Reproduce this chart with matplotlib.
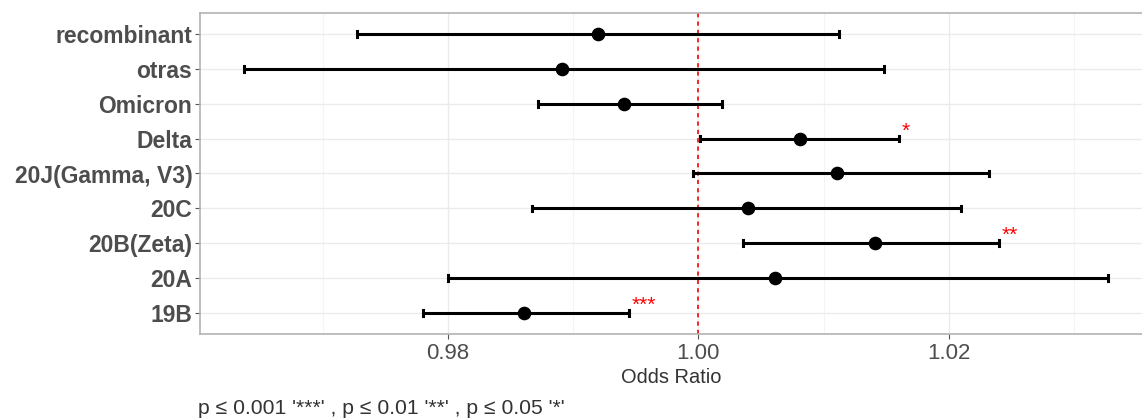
import matplotlib
matplotlib.use("Agg")
import matplotlib.pyplot as plt
from matplotlib.ticker import FixedLocator

plt.rcParams['font.family'] = ['Liberation Sans', 'DejaVu Sans']

categories = ["19B", "20A", "20B(Zeta)", "20C", "20J(Gamma, V3)", "Delta", "Omicron", "otras", "recombinant"]
odds_ratio = [0.9861, 1.0061, 1.0141, 1.0040, 1.0111, 1.0081, 0.9941, 0.9891, 0.9920]
ci_low = [0.9780, 0.9800, 1.0036, 0.9867, 0.9996, 1.0001, 0.9872, 0.9637, 0.9727]
ci_high = [0.9945, 1.0327, 1.0240, 1.0210, 1.0232, 1.0160, 1.0019, 1.0148, 1.0112]
signif = ["***", "", "**", "", "", "*", "", "", ""]
caption = "p \u2264 0.001 '***' , p \u2264 0.01 '**' , p \u2264 0.05 '*'"

fig = plt.figure(figsize=(11.42, 4.19), dpi=100)
ax = fig.add_axes([200/1142, 1 - 334/419, 942/1142, 321/419])

ypos = list(range(1, len(categories) + 1))
for y, lo, hi in zip(ypos, ci_low, ci_high):
    ax.plot([lo, hi], [y, y], color="black", lw=2.2, solid_capstyle="butt", zorder=3)
    ax.plot([lo, lo], [y - 0.08, y + 0.08], color="black", lw=2.2, zorder=3)
    ax.plot([hi, hi], [y - 0.08, y + 0.08], color="black", lw=2.2, zorder=3)
ax.plot(odds_ratio, ypos, 'o', color="black", ms=8.8, zorder=4)

for y, hi, s in zip(ypos, ci_high, signif):
    if s:
        ax.text(hi + 0.0002, y + 0.22, s, color="red", fontsize=15,
                ha="left", va="center", zorder=5)

ax.axvline(1.0, color="red", ls=(0, (2.5, 2.5)), lw=1.2, zorder=2)

ax.set_xlim(0.96020, 1.03543)
ax.set_ylim(0.4, 9.6)
ax.xaxis.set_major_locator(FixedLocator([0.98, 1.00, 1.02]))
ax.xaxis.set_minor_locator(FixedLocator([0.97, 0.99, 1.01, 1.03]))
ax.set_xticklabels(["0.98", "1.00", "1.02"])
ax.set_yticks(ypos)
ax.set_yticklabels(categories, fontweight="bold")

ax.grid(True, which="major", color="#ebebeb", lw=1.0, zorder=0)
ax.grid(True, which="minor", axis="x", color="#f4f4f4", lw=0.8, zorder=0)
ax.set_axisbelow(True)

ax.tick_params(axis="both", which="major", length=3.5, width=0.8, color="#555555",
               labelsize=16, labelcolor="#4d4d4d", pad=2)
ax.tick_params(axis="y", labelsize=16.5)
ax.tick_params(axis="x", which="minor", length=0)
ax.tick_params(axis="x", pad=3)

for side in ["top", "left", "bottom"]:
    ax.spines[side].set_color("#b3b3b3")
    ax.spines[side].set_linewidth(1.2)
ax.spines["right"].set_visible(False)

ax.set_xlabel("Odds Ratio", fontsize=14.4, color="#333333", labelpad=3)

fig.text(198/1142, 1 - 408/419, caption, fontsize=15.2, color="#333333", ha="left", va="center")

fig.savefig("out.png", dpi=100)
